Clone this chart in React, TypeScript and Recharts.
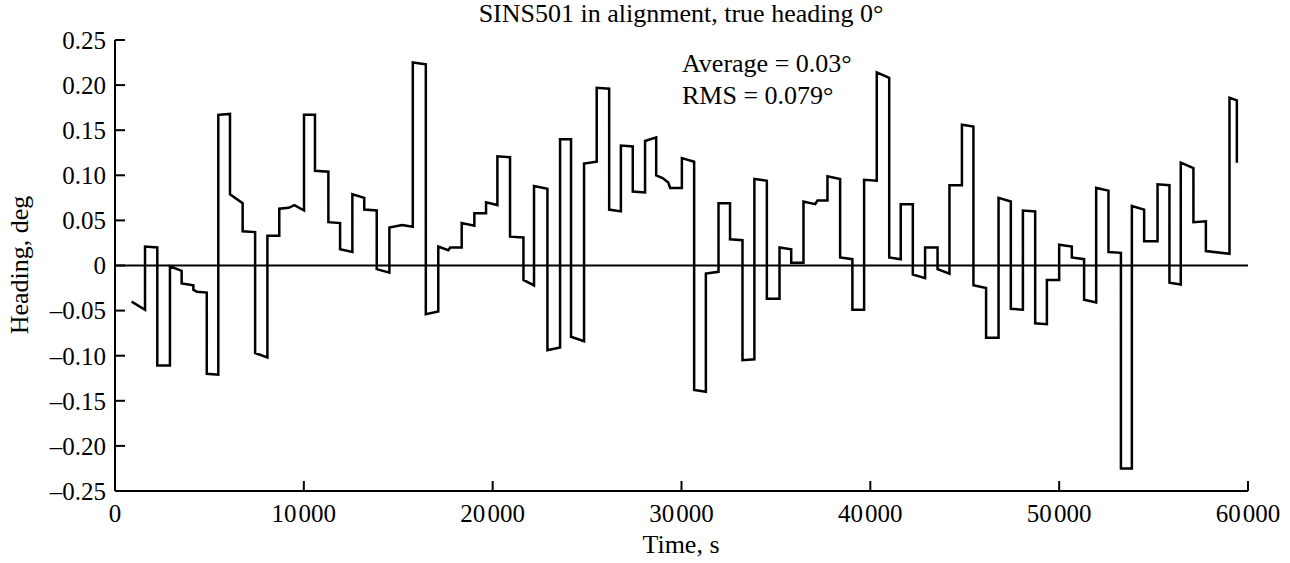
import { LineChart, Line, XAxis, YAxis, ReferenceLine } from "recharts";

// time, s (repeated time = vertical jump of the step)
const time = [
	880, 1590, 1590, 2240, 2240, 2910, 2910, 3530, 3530, 4150, 4150, 4330, 4860,
	4860, 5470, 5470, 6090, 6090, 6760, 6760, 7420, 7420, 8070, 8070, 8700, 8700,
	9200, 9500, 10010, 10010, 10590, 10590, 11300, 11300, 11920, 11920, 12570,
	12570, 13200, 13200, 13860, 13860, 14530, 14530, 15200, 15770, 15770, 16460,
	16460, 17120, 17120, 17650, 17750, 18360, 18360, 19030, 19030, 19650, 19650,
	20250, 20250, 20920, 20920, 21630, 21630, 22190, 22190, 22900, 22900, 23570,
	23570, 24150, 24150, 24840, 24840, 25510, 25510, 26170, 26170, 26790, 26790,
	27420, 27420, 28070, 28070, 28660, 28660, 29000, 29300, 29400, 30020, 30020,
	30670, 30670, 31290, 31290, 31960, 31960, 32570, 32570, 33230, 33230, 33860,
	33860, 34520, 34520, 35190, 35190, 35810, 35810, 36460, 36460, 37080, 37200,
	37730, 37730, 38400, 38400, 39050, 39050, 39670, 39670, 40340, 40340, 41000,
	41000, 41610, 41610, 42250, 42250, 42900, 42900, 43560, 43560, 44190, 44190,
	44850, 44850, 45460, 45460, 46130, 46130, 46790, 46790, 47440, 47440, 48080,
	48080, 48730, 48730, 49350, 49350, 50000, 50000, 50670, 50670, 51320, 51320,
	51960, 51960, 52610, 52610, 53270, 53270, 53850, 53850, 54500, 54500, 55210,
	55210, 55840, 55840, 56440, 56440, 57110, 57110, 57770, 57770, 59020, 59020,
	59410, 59410,
];

// heading, deg
const heading = [
	-0.04, -0.049, 0.021, 0.02, -0.111, -0.111, -0.001, -0.006, -0.02, -0.022,
	-0.027, -0.029, -0.03, -0.12, -0.121, 0.167, 0.168, 0.079, 0.069, 0.038,
	0.037, -0.097, -0.102, 0.033, 0.033, 0.063, 0.064, 0.067, 0.061, 0.167,
	0.167, 0.105, 0.104, 0.048, 0.047, 0.018, 0.015, 0.079, 0.075, 0.062, 0.061,
	-0.004, -0.008, 0.042, 0.045, 0.043, 0.225, 0.223, -0.054, -0.051, 0.021,
	0.017, 0.02, 0.02, 0.047, 0.044, 0.058, 0.058, 0.07, 0.067, 0.121, 0.12,
	0.032, 0.031, -0.016, -0.022, 0.088, 0.085, -0.094, -0.091, 0.14, 0.14,
	-0.079, -0.084, 0.113, 0.115, 0.197, 0.196, 0.062, 0.06, 0.133, 0.132,
	0.082, 0.081, 0.138, 0.142, 0.1, 0.097, 0.092, 0.086, 0.086, 0.119, 0.115,
	-0.138, -0.14, -0.009, -0.007, 0.069, 0.069, 0.029, 0.028, -0.105, -0.104,
	0.096, 0.094, -0.037, -0.037, 0.02, 0.018, 0.003, 0.003, 0.071, 0.068, 0.072,
	0.072, 0.099, 0.096, 0.009, 0.007, -0.049, -0.049, 0.095, 0.094, 0.214,
	0.208, 0.009, 0.007, 0.068, 0.068, -0.01, -0.014, 0.02, 0.02, -0.004, -0.009,
	0.089, 0.089, 0.156, 0.154, -0.022, -0.025, -0.08, -0.08, 0.075, 0.071,
	-0.048, -0.049, 0.061, 0.06, -0.064, -0.065, -0.016, -0.016, 0.023, 0.021,
	0.009, 0.007, -0.038, -0.041, 0.086, 0.083, 0.015, 0.014, -0.225, -0.225,
	0.066, 0.062, 0.027, 0.027, 0.09, 0.089, -0.019, -0.021, 0.114, 0.108,
	0.048, 0.049, 0.016, 0.013, 0.186, 0.183, 0.114,
];

const timeTicks = [0, 10000, 20000, 30000, 40000, 50000, 60000];
const headingTicks = [
	-0.25, -0.2, -0.15, -0.1, -0.05, 0, 0.05, 0.1, 0.15, 0.2, 0.25,
];

const data = time.map((t, i) => ({ t, v: heading[i] }));

const font = "'Liberation Serif', 'Times New Roman', serif";
const tickStyle = { fill: "#000", fontSize: 25, fontFamily: font };

const fmtTime = (v: number) =>
	v === 0 ? "0" : `${Math.floor(v / 1000)}\u200A000`;
const fmtHeading = (v: number) =>
	Math.abs(v) < 1e-9 ? "0" : (v < 0 ? "\u2013" : "") + Math.abs(v).toFixed(2);

export default function App() {
	return (
		<div
			style={{
				position: "absolute",
				left: 0,
				top: 0,
				width: 1290,
				height: 563,
				background: "#fff",
			}}>
			<LineChart
				width={1290}
				height={563}
				data={data}
				margin={{ top: 40, right: 42, bottom: 0, left: 0 }}>
				<XAxis
					dataKey="t"
					type="number"
					domain={[0, 60000]}
					ticks={timeTicks}
					tickFormatter={fmtTime}
					height={72}
					tickSize={-10}
					tickMargin={23}
					axisLine={{ stroke: "#000", strokeWidth: 2 }}
					tickLine={{ stroke: "#000", strokeWidth: 2 }}
					tick={tickStyle}
				/>
				<YAxis
					type="number"
					domain={[-0.25, 0.25]}
					ticks={headingTicks}
					tickFormatter={fmtHeading}
					width={115}
					tickSize={-10}
					tickMargin={19}
					axisLine={{ stroke: "#000", strokeWidth: 2 }}
					tickLine={{ stroke: "#000", strokeWidth: 2 }}
					tick={tickStyle}
				/>
				<ReferenceLine y={0} stroke="#000" strokeWidth={2} />
				<Line
					dataKey="v"
					type="linear"
					stroke="#000"
					strokeWidth={2.5}
					dot={false}
					isAnimationActive={false}
				/>
			</LineChart>
			<svg
				width={1290}
				height={563}
				style={{ position: "absolute", left: 0, top: 0, pointerEvents: "none" }}
				fontFamily={font}
				fill="#000">
				<text x={681} y={22} fontSize={26} textAnchor="middle">
					SINS501 in alignment, true heading 0°
				</text>
				<text x={682} y={72} fontSize={26}>
					Average = 0.03°
				</text>
				<text x={682} y={104} fontSize={26}>
					RMS = 0.079°
				</text>
				<text x={681} y={553} fontSize={26} textAnchor="middle">
					Time, s
				</text>
				<text
					x={28}
					y={265}
					fontSize={26}
					textAnchor="middle"
					transform="rotate(-90 28 265)">
					Heading, deg
				</text>
			</svg>
		</div>
	);
}
